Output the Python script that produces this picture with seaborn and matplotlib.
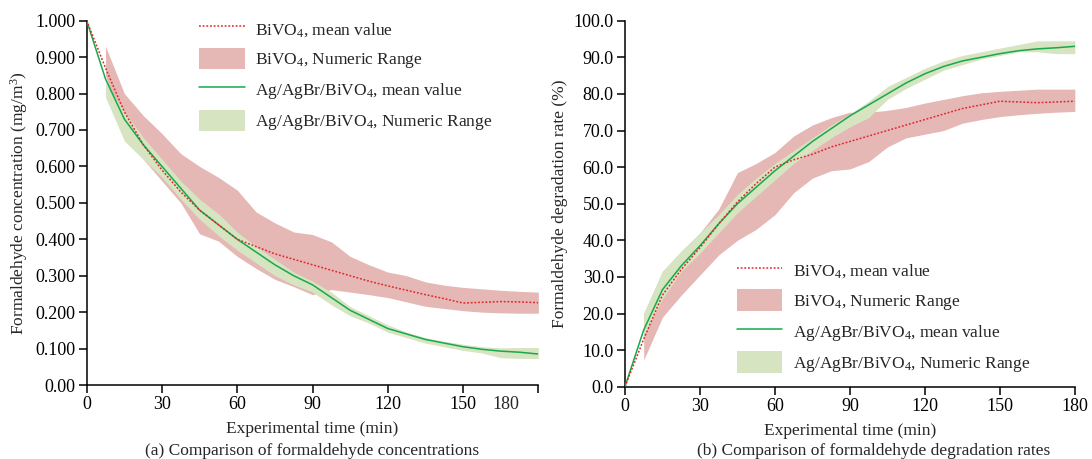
import numpy as np
import pandas as pd
import seaborn as sns
import matplotlib.pyplot as plt
import matplotlib.patches as mpatches
import matplotlib.lines as mlines

# time points (min)
time = [0, 7.5, 15, 22.5, 30, 37.5, 45, 52.5, 60, 67.5, 75, 82.5, 90, 97.5,
        105, 112.5, 120, 127.5, 135, 142.5, 150, 157.5, 165, 172.5, 180]

# (a) concentration (mg/m3)
conc_bivo4 = [1.0, 0.87, 0.75, 0.66, 0.59, 0.53, 0.48, 0.44, 0.40, 0.38, 0.36, 0.345,
              0.33, 0.315, 0.30, 0.285, 0.272, 0.26, 0.248, 0.237, 0.225, 0.227, 0.229,
              0.228, 0.226]
conc_bivo4_hi = [np.nan, 0.93, 0.80, 0.74, 0.69, 0.635, 0.60, 0.57, 0.535, 0.475, 0.445,
                 0.42, 0.413, 0.393, 0.353, 0.33, 0.31, 0.30, 0.283, 0.274, 0.268, 0.264,
                 0.26, 0.257, 0.255]
conc_bivo4_lo = [np.nan, 0.85, 0.68, 0.62, 0.56, 0.50, 0.415, 0.395, 0.353, 0.32, 0.29,
                 0.27, 0.248, 0.262, 0.255, 0.248, 0.24, 0.228, 0.216, 0.21, 0.204, 0.2,
                 0.198, 0.197, 0.197]
conc_ag = [1.0, 0.84, 0.73, 0.66, 0.60, 0.54, 0.48, 0.44, 0.40, 0.365, 0.33, 0.30, 0.275,
           0.24, 0.205, 0.18, 0.155, 0.14, 0.125, 0.115, 0.105, 0.098, 0.093, 0.09, 0.085]
conc_ag_hi = [np.nan, 0.83, 0.75, 0.68, 0.62, 0.56, 0.51, 0.47, 0.42, 0.38, 0.345, 0.31,
              0.285, 0.255, 0.215, 0.19, 0.165, 0.145, 0.13, 0.12, 0.112, 0.105, 0.102,
              0.103, 0.103]
conc_ag_lo = [np.nan, 0.79, 0.67, 0.62, 0.57, 0.51, 0.455, 0.41, 0.37, 0.335, 0.30, 0.275,
              0.255, 0.22, 0.19, 0.17, 0.145, 0.13, 0.115, 0.105, 0.095, 0.088, 0.075,
              0.073, 0.073]

# (b) degradation rate (%)
rate_bivo4 = [0, 13, 25, 32, 38, 44.5, 50.5, 55.5, 60, 62, 63.5, 65.5, 67, 68.5, 70, 71.5,
              73, 74.5, 76, 77, 78, 77.8, 77.6, 77.8, 78]
rate_bivo4_hi = [np.nan, 20, 31.5, 37, 42, 48.5, 58.5, 61, 64, 68.5, 71.5, 73.5, 75, 75,
                 75.5, 76.3, 77.5, 78.5, 79.5, 80.3, 80.7, 81, 81.3, 81.3, 81.3]
rate_bivo4_lo = [np.nan, 7.3, 19, 25, 30.5, 36, 40, 43, 47, 53, 57, 59, 59.5, 61.5, 65.5,
                 68, 69, 70, 72, 73, 73.8, 74.3, 74.7, 75, 75.2]
rate_ag = [0, 15.5, 26.5, 33, 38.5, 44.5, 50, 54.5, 59, 63, 67, 70.5, 74, 77, 80, 83, 85.5,
           87.5, 89, 90, 91, 91.8, 92.3, 92.6, 93]
rate_ag_hi = [np.nan, 20, 31.5, 37, 42, 47, 52.5, 57, 61, 64.5, 68, 71.5, 74.5, 78, 82,
              84.5, 87, 89, 90.5, 91.5, 92.5, 93.5, 94.5, 94.5, 94.5]
rate_ag_lo = [np.nan, 14, 24, 31.5, 36.5, 42, 47.5, 52, 56.5, 61, 64.5, 68, 71, 73.5, 78.5,
              81.5, 84, 86.5, 88, 89.5, 90.5, 91.5, 91.5, 91, 91]

RED = '#e0262b'
RED_BAND = '#e5b7b5'
GREEN = '#18a94c'
GREEN_BAND = '#d6e4c1'

sns.set_theme(style='ticks')
plt.rcParams['font.family'] = ['Liberation Serif', 'DejaVu Serif']
plt.rcParams['mathtext.fontset'] = 'custom'
plt.rcParams['mathtext.rm'] = 'Liberation Serif'
plt.rcParams['mathtext.it'] = 'Liberation Serif:italic'
plt.rcParams['font.size'] = 11

df_conc = pd.DataFrame({'time': time, 'bivo4': conc_bivo4, 'ag': conc_ag})
df_rate = pd.DataFrame({'time': time, 'bivo4': rate_bivo4, 'ag': rate_ag})


def draw_panel(ax, df, lo1, hi1, lo2, hi2):
    t = np.array(time)
    ax.fill_between(t, lo1, hi1, color=RED_BAND, lw=0, zorder=1)
    ax.fill_between(t, lo2, hi2, color=GREEN_BAND, lw=0, zorder=2)
    sns.lineplot(data=df, x='time', y='bivo4', ax=ax, color=RED, lw=1.1,
                 linestyle=(0, (1.2, 1.2)), zorder=4)
    sns.lineplot(data=df, x='time', y='ag', ax=ax, color=GREEN, lw=1.1, zorder=3)
    ax.set_xlim(0, 180)
    sns.despine(ax=ax)
    for s in ('left', 'bottom'):
        ax.spines[s].set_linewidth(1.1)
        ax.spines[s].set_color('black')
    ax.tick_params(direction='out', length=5.5, width=1.1, labelsize=13, colors='black',
                   pad=2.5)


def legend_handles():
    return [mlines.Line2D([], [], color=RED, lw=1.1, linestyle=(0, (1.2, 1.2))),
            mpatches.Patch(color=RED_BAND, lw=0),
            mlines.Line2D([], [], color=GREEN, lw=1.1),
            mpatches.Patch(color=GREEN_BAND, lw=0)]


labels = [r'BiVO$_4$, mean value', r'BiVO$_4$, Numeric Range',
          r'Ag/AgBr/BiVO$_4$, mean value', r'Ag/AgBr/BiVO$_4$, Numeric Range']

fig = plt.figure(figsize=(10.92, 4.59), dpi=100)
ax1 = fig.add_axes([0.0794, 0.1612, 0.4136, 0.7937])
ax2 = fig.add_axes([0.5723, 0.1575, 0.412, 0.7974])

# (a)
draw_panel(ax1, df_conc, conc_bivo4_lo, conc_bivo4_hi, conc_ag_lo, conc_ag_hi)
ax1.set_ylim(0, 1.0)
yt = np.arange(0, 1.01, 0.1)
ax1.set_yticks(yt, ['0.00'] + ['%.3f' % v for v in yt[1:]])
ax1.set_xticks([0, 30, 60, 90, 120, 150, 180], ['0', '30', '60', '90', '120', '150', ''])
# the original puts the "180" label left of the last tick
ax1.set_xticks([167], ['180'], minor=True)
ax1.tick_params(axis='x', which='minor', length=0, pad=8, labelsize=13)
ax1.set_xlabel('Experimental time (min)', fontsize=12.5, labelpad=6)
ax1.set_ylabel('Formaldehyde concentration (mg/m$^3$)', fontsize=12.5, labelpad=4)
ax1.legend(legend_handles(), labels, loc='upper left', bbox_to_anchor=(0.215, 1.05),
           frameon=False, fontsize=12.5, handlelength=2.6, handleheight=1.5,
           labelspacing=0.5, handletextpad=0.6)

# (b)
draw_panel(ax2, df_rate, rate_bivo4_lo, rate_bivo4_hi, rate_ag_lo, rate_ag_hi)
ax2.set_ylim(0, 100)
ax2.set_yticks(np.arange(0, 101, 10), ['%.1f' % v for v in np.arange(0, 101, 10)])
ax2.set_xticks([0, 30, 60, 90, 120, 150, 180])
ax2.set_xlabel('Experimental time (min)', fontsize=12.5, labelpad=6)
ax2.set_ylabel('Formaldehyde degradation rate (%)', fontsize=12.5, labelpad=4)
ax2.legend(legend_handles(), labels, loc='upper left', bbox_to_anchor=(0.215, 0.39),
           frameon=False, fontsize=12.5, handlelength=2.6, handleheight=1.5,
           labelspacing=0.5, handletextpad=0.6)

fig.text(0.286, 0.018, '(a) Comparison of formaldehyde concentrations',
         ha='center', va='center', fontsize=12.5)
fig.text(0.800, 0.018, '(b) Comparison of formaldehyde degradation rates',
         ha='center', va='center', fontsize=12.5)

fig.savefig('out.png', dpi=100)
